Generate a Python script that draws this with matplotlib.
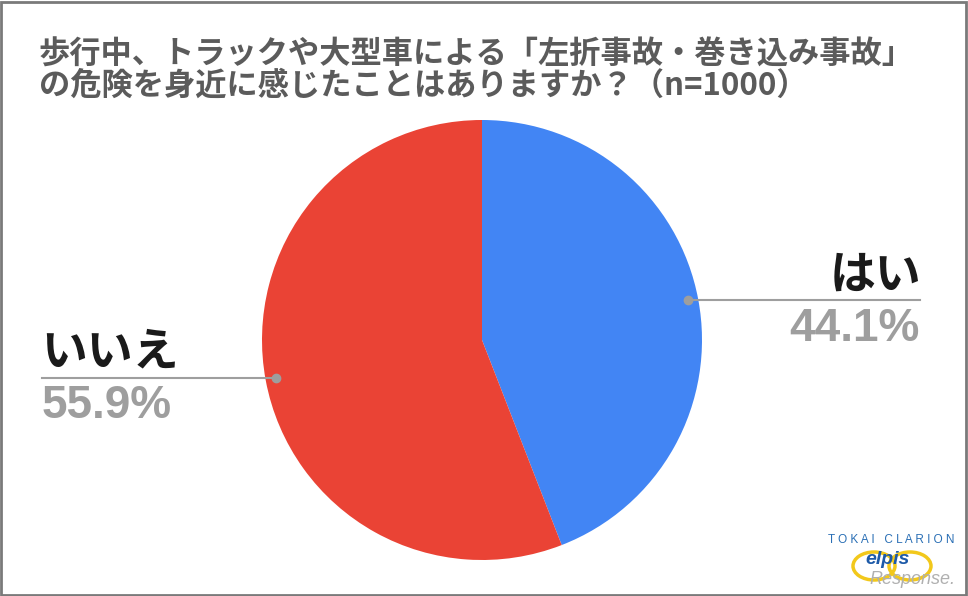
import matplotlib.pyplot as plt
from matplotlib.patches import Ellipse

plt.rcParams['font.family'] = ['Noto Sans CJK JP', 'DejaVu Sans']

# data
title_lines = ['歩行中、トラックや大型車による「左折事故・巻き込み事故」',
               'の危険を身近に感じたことはありますか？（n=1000）']
labels = ['はい', 'いいえ']
shares = [44.1, 55.9]
colors = ['#4285F4', '#EA4335']

W, H = 968, 596
fig = plt.figure(figsize=(W / 100, H / 100), dpi=100)
ax = fig.add_axes([0, 0, 1, 1])

# pie in pixel coords (y up)
cx, cy, r = 482, H - 340, 220
ax.pie(shares, colors=colors, startangle=90, counterclock=False,
       center=(cx, cy), radius=r, wedgeprops=dict(linewidth=0))
ax.set_xlim(0, W)
ax.set_ylim(0, H)
ax.set_aspect('equal')
ax.axis('off')

# frame
fig.patches.append(plt.Rectangle((0.001, 0.002), 0.997, 0.995, transform=fig.transFigure,
                                 fill=False, edgecolor='#7a7a7a', linewidth=2))

# title
for i, line in enumerate(title_lines):
    ax.text(39, H - 55 - i * 31, line, fontsize=22.5, fontweight='bold',
            color='#5b5b5b', ha='left', va='center')

gray = '#9e9e9e'
# はい label (right)
ax.plot([688, 920], [H - 300, H - 300], color=gray, lw=1.5)
ax.plot(688, H - 300, 'o', color=gray, ms=6)
ax.text(921, H - 289, labels[0], fontsize=33, fontweight='bold', color='#1a1a1a',
        ha='right', va='baseline')
ax.text(920, H - 341, f'{shares[0]}%', fontsize=33, fontweight='bold', color=gray,
        ha='right', va='baseline', family='Liberation Sans')

# いいえ label (left)
ax.plot([42, 276], [H - 378, H - 378], color=gray, lw=1.5)
ax.plot(276, H - 378, 'o', color=gray, ms=6)
ax.text(41, H - 365, labels[1], fontsize=33, fontweight='bold', color='#1a1a1a',
        ha='left', va='baseline')
ax.text(42, H - 418, f'{shares[1]}%', fontsize=33, fontweight='bold', color=gray,
        ha='left', va='baseline', family='Liberation Sans')

# logo
ax.text(891, H - 540, 'T O K A I   C L A R I O N', fontsize=8.5, color='#2a6fb5',
        ha='center', va='center', family='Liberation Sans')
ax.add_patch(Ellipse((874, H - 566), 42, 28, fill=False, edgecolor='#f2c81b', lw=2.5))
ax.add_patch(Ellipse((910, H - 566), 42, 28, fill=False, edgecolor='#f2c81b', lw=2.5))
ax.text(888, H - 559, 'elpis', fontsize=14, color='#1d5aa8', ha='center',
        va='center', family='Liberation Sans', fontweight='bold', style='italic')
ax.text(955, H - 580, 'Response.', fontsize=13, color='#b0b0b0', ha='right',
        va='center', family='Liberation Sans', style='italic')

fig.savefig('out.png', dpi=100)
